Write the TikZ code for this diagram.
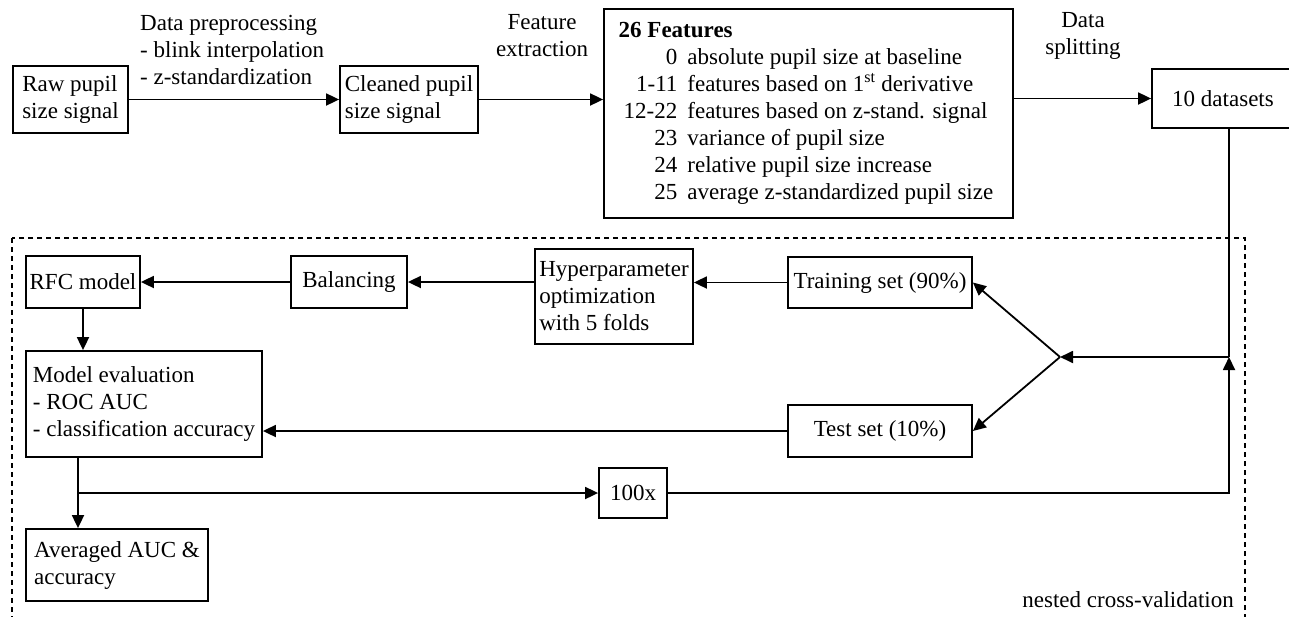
\documentclass[tikz,border=0pt]{standalone}
\usepackage{fontspec}
\setmainfont{Liberation Serif}
\usetikzlibrary{arrows.meta,calc}
\begin{document}
\begin{tikzpicture}[x=1pt,y=-1pt,
  every node/.style={font=\fontsize{23}{27}\selectfont},
  box/.style={draw, line width=1.8pt, inner sep=2pt, align=left},
  arr/.style={line width=1.8pt, -{Triangle[length=13pt,width=12pt]}},
  ln/.style={line width=1.8pt},
  lbl/.style={inner sep=0pt},
  cvframe/.style={line width=1.3pt, dash pattern=on 5pt off 4pt}]
\useasboundingbox (0,0) rectangle (1289,616);
% top row
\node[box, minimum width=115pt, minimum height=67pt] (raw) at (70.5,99.5) {Raw pupil\\size signal};
\node[box, minimum width=138pt, minimum height=67pt] (clean) at (409,99.5) {Cleaned pupil\\size signal};
\node[box, minimum width=409pt, minimum height=209pt, inner sep=0pt] (feat) at (808.5,113.5)
  {\begin{tabular}{@{}r@{\hspace{10pt}}l@{}}
   \multicolumn{2}{@{\hspace{-5pt}}l}{\textbf{26 Features}}\\
   0 & absolute pupil size at baseline\\
   1-11 & features based on 1\textsuperscript{st} derivative\\
   12-22 & features based on z-stand. signal\\
   23 & variance of pupil size\\
   24 & relative pupil size increase\\
   25 & average z-standardized pupil size
   \end{tabular}};
\node[box, minimum width=142pt, minimum height=59pt] (ds) at (1223,98.5) {10 datasets};
\node[lbl, anchor=west, align=left] (lprep) at (140,50) {Data preprocessing\\- blink interpolation\\- z-standardization};
\node[lbl, align=center] (lfeat) at (542,36) {Feature\\extraction};
\node[lbl, align=center] (lsplit) at (1083,36) {Data\\splitting};
% nested cross-validation frame
\draw[cvframe] (12,238) rectangle (1245,640);
\node[lbl, anchor=east] (lnest) at (1234,600) {nested cross-validation};
% lower nodes
\node[box, minimum width=114pt, minimum height=52pt] (rfc) at (83,282) {RFC model};
\node[box, minimum width=116pt, minimum height=52pt] (bal) at (349,282) {Balancing};
\node[box, minimum width=158pt, minimum height=95pt] (hyp) at (614,296.5) {Hyperparameter\\optimization\\with 5 folds};
\node[box, minimum width=184pt, minimum height=51pt] (train) at (880,282.5) {Training set (90\%)};
\node[box, minimum width=184pt, minimum height=52pt] (test) at (880,431) {Test set (10\%)};
\node[box, minimum width=236pt, minimum height=106pt] (meval) at (144,404) {Model evaluation\\- ROC AUC\\- classification accuracy};
\node[box, minimum width=68pt, minimum height=50pt] (hundred) at (633,493) {100x};
\node[box, minimum width=182pt, minimum height=72pt] (avg) at (117,565) {Averaged AUC \&\\accuracy};
\coordinate (c1) at (1229,357);
\coordinate (c2) at (1229,493);
\coordinate (br) at (1060,357);
\coordinate (j) at (78,493);
% connectors
\draw[arr] (raw.east) -- (clean.west);
\draw[arr] (clean.east) -- (clean.east -| feat.west);
\draw[arr] (feat.east |- ds.west) -- (ds.west);
\draw[ln] (c1 |- ds.south) -- (c1);
\draw[arr] (c1) -- (br);
\draw[arr] (br) -- (train.east);
\draw[arr] (br) -- (test.east);
\draw[arr] (train.west) -- (train.west -| hyp.east);
\draw[arr] (hyp.west |- bal.east) -- (bal.east);
\draw[arr] (bal.west) -- (rfc.east);
\draw[arr] (rfc.south) -- (rfc.south |- meval.north);
\draw[arr] (test.west) -- (test.west -| meval.east);
\draw[arr] (j |- meval.south) -- (j |- avg.north);
\draw[arr] (j) -- (hundred.west);
\draw[arr] (hundred.east) -- (c2) -- (c1);
\end{tikzpicture}
\end{document}
